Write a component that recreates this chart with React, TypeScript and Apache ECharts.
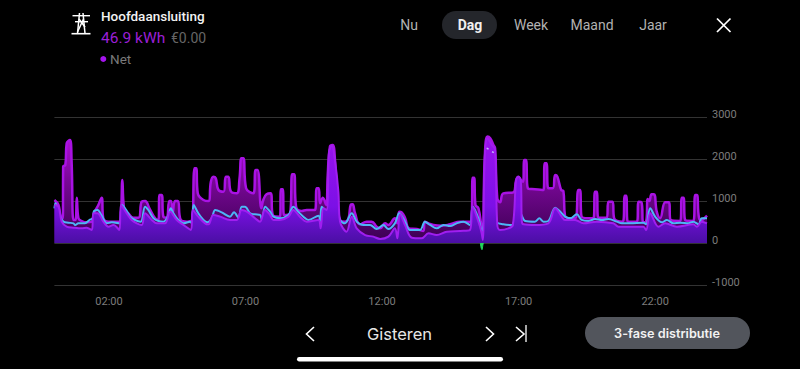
import React, { useEffect, useRef } from "react";
import * as echarts from "echarts";

const tickHours = [2, 7, 12, 17, 22];
const yMin = -1000;
const yMax = 3000;

const topLine: number[][] = [
[0,1025],[.15,905],[.23,627],[.31,590],[.32,1818],[.40,1858],[.45,2374],[.57,2453],[.63,1937],[.70,548],[.77,548],[.82,1080],[.88,590],[1.0,524],[1.18,492],[1.37,508],[1.47,730],[1.61,905],[1.73,1080],[1.79,590],[1.98,508],[2.38,508],[2.43,548],[2.49,1500],[2.55,826],[2.71,707],[2.89,603],[3.08,603],[3.2,985],[3.32,1000],[3.48,826],[3.69,588],[3.81,548],[3.85,1143],[3.93,1143],[3.99,627],[4.11,603],[4.21,1000],[4.27,1000],[4.33,707],[4.42,1000],[4.52,1000],[4.63,548],[4.85,508],[5.0,524],[5.05,508],[5.13,1779],[5.19,1779],[5.25,1183],[5.46,1024],[5.64,1000],[5.73,1461],[5.82,1580],[5.91,1540],[6.01,1262],[6.19,1222],[6.28,1580],[6.37,1580],[6.47,1222],[6.68,1183],[6.78,1540],[6.85,2017],[6.92,2017],[7.02,1302],[7.29,1183],[7.37,1739],[7.44,1739],[7.58,826],[7.65,1024],[7.77,1159],[7.92,1183],[8.0,667],[8.26,627],[8.3,1278],[8.36,1278],[8.41,667],[8.63,707],[8.71,1636],[8.78,1636],[8.85,865],[9.06,762],[9.24,786],[9.54,786],[9.61,1302],[9.68,1302],[9.73,945],[9.83,1080],[9.95,905],[10.01,1620],[10.09,2295],[10.19,2334],[10.28,1937],[10.36,1064],[10.46,548],[10.64,508],[10.77,588],[10.85,905],[10.92,920],[11.01,707],[11.19,445],[11.44,508],[11.62,508],[11.8,389],[11.93,349],[12.11,468],[12.23,429],[12.47,588],[12.56,468],[12.63,746],[12.72,730],[12.84,603],[12.99,349],[13.27,333],[13.51,286],[13.57,508],[13.7,468],[13.88,429],[14.18,413],[14.49,445],[14.86,508],[15.22,508],[15.28,548],[15.32,1556],[15.37,1556],[15.42,905],[15.53,826],[15.65,349],[15.69,270],[15.76,2017],[15.86,2533],[15.96,2493],[16.08,2334],[16.14,2255],[16.22,1064],[16.32,969],[16.44,1183],[16.81,1207],[16.91,1500],[16.99,1580],[17.08,1500],[17.16,1460],[17.21,1977],[17.27,1977],[17.34,1302],[17.6,1280],[17.91,1262],[17.96,1898],[18.02,1898],[18.09,1302],[18.25,1302],[18.34,1620],[18.42,1580],[18.56,1262],[18.64,1240],[18.7,651],[18.89,588],[19.07,588],[19.19,1262],[19.25,1262],[19.31,627],[19.74,588],[19.8,1222],[19.86,1222],[19.92,603],[20.23,603],[20.29,985],[20.44,985],[20.5,588],[20.82,508],[20.89,1127],[20.94,1127],[21,508],[21.33,508],[21.4,985],[21.5,970],[21.57,492],[21.67,508],[21.73,1048],[21.79,1000],[21.87,1159],[21.96,1159],[22.06,746],[22.18,588],[22.37,969],[22.5,969],[22.57,548],[22.92,524],[22.98,1080],[23.04,1080],[23.1,548],[23.4,524],[23.47,1143],[23.53,1143],[23.61,588],[23.71,548],[23.8,588],[23.9,651]
];

const cyanLine: number[][] = [
[0,826],[.04,945],[.11,826],[.21,627],[.33,508],[.51,484],[.7,468],[.76,429],[.88,468],[1.12,468],[1.28,548],[1.4,588],[1.45,762],[1.58,786],[1.73,651],[1.92,468],[2.1,492],[2.38,468],[2.47,905],[2.63,786],[2.77,627],[2.95,548],[3.16,508],[3.32,865],[3.44,786],[3.63,588],[3.81,524],[3.99,508],[4.18,667],[4.26,826],[4.36,707],[4.54,548],[4.73,468],[4.97,508],[5.03,468],[5.1,905],[5.27,707],[5.46,548],[5.6,492],[5.76,588],[5.89,786],[6.13,730],[6.43,627],[6.58,730],[6.74,603],[6.86,865],[6.98,865],[7.17,707],[7.35,683],[7.53,667],[7.6,548],[7.72,865],[7.9,746],[8.02,627],[8.26,588],[8.57,667],[8.75,865],[8.93,746],[9.12,627],[9.3,548],[9.67,651],[9.73,468],[9.79,865],[9.97,746],[10.1,1500],[10.2,1500],[10.38,800],[10.46,548],[10.64,468],[10.89,707],[11.07,508],[11.32,429],[11.56,429],[11.8,333],[12.05,429],[12.23,333],[12.47,468],[12.63,707],[12.84,508],[13.02,310],[13.39,310],[13.57,508],[13.76,429],[14.0,349],[14.25,429],[14.49,405],[14.73,468],[14.98,508],[15.22,429],[15.32,865],[15.53,588],[15.65,286],[15.72,429],[15.86,1500],[16.1,1500],[16.2,508],[16.44,445],[16.75,429],[16.87,588],[16.96,786],[17.08,700],[17.24,524],[17.6,508],[17.76,588],[17.91,508],[18.09,524],[18.34,842],[18.5,762],[18.7,627],[18.89,588],[19.13,683],[19.31,548],[19.56,524],[19.8,572],[20.05,548],[20.29,572],[20.6,508],[20.78,468],[21.09,468],[21.57,484],[21.67,445],[21.82,826],[22,627],[22.25,492],[22.43,548],[22.67,468],[22.92,484],[23.22,468],[23.4,508],[23.59,445],[23.71,588],[23.9,588]
];

const crestMarks: (number | null)[][] = [[15.83,2255],[15.9,2240],[null,null],[16.03,2176],[16.09,2150]];

const lowerLine: number[][] = [
[0,905],[.15,865],[.27,508],[.45,389],[.7,365],[1.0,349],[1.18,365],[1.37,310],[1.43,707],[1.58,707],[1.79,508],[1.98,389],[2.16,429],[2.38,310],[2.44,905],[2.65,707],[2.83,548],[3.02,468],[3.2,429],[3.32,707],[3.57,548],[3.75,468],[4.05,468],[4.24,746],[4.48,548],[4.73,429],[5.0,310],[5.07,786],[5.27,627],[5.52,468],[5.64,445],[5.82,667],[6.07,627],[6.43,548],[6.68,548],[6.86,786],[7.05,746],[7.35,588],[7.53,508],[7.71,786],[7.9,667],[8.02,548],[8.26,548],[8.57,627],[8.75,786],[8.99,627],[9.24,508],[9.67,548],[9.75,349],[9.85,826],[9.97,786],[10.06,2176],[10.16,2318],[10.28,1937],[10.4,1222],[10.46,508],[10.7,270],[10.89,627],[11.07,349],[11.38,190],[11.68,151],[11.93,95],[12.23,151],[12.47,349],[12.56,111],[12.66,683],[12.84,429],[13.09,127],[13.45,111],[13.7,230],[14,190],[14.37,270],[14.86,286],[15.22,310],[15.31,865],[15.53,508],[15.64,254],[15.69,71],[15.76,2017],[15.86,2493],[16.02,2334],[16.14,2215],[16.22,429],[16.32,310],[16.63,349],[16.79,429],[16.91,1500],[16.99,1580],[17.08,1500],[17.12,508],[17.18,445],[17.6,429],[18.09,468],[18.34,826],[18.58,627],[18.7,548],[19.07,548],[19.38,468],[19.86,508],[20.47,468],[20.66,389],[21.57,389],[21.67,310],[21.82,707],[22.12,389],[22.37,468],[22.8,389],[23.4,445],[23.53,389],[23.71,508],[23.9,468]
];

const greenDip: number[][] = [[15.6,0],[15.63,-120],[15.66,-160],[15.69,-60],[15.71,0]];

const periodTabs = [
  { label: "Nu", x: 409 },
  { label: "Week", x: 531 },
  { label: "Maand", x: 592 },
  { label: "Jaar", x: 653 },
];

const line = (x1: number, y1: number, x2: number, y2: number, stroke = "#fff", w = 1.5) => ({
  type: "line",
  silent: true,
  shape: { x1, y1, x2, y2 },
  style: { stroke, lineWidth: w },
});
const poly = (points: number[][], stroke = "#fff", w = 1.6) => ({
  type: "polyline",
  silent: true,
  shape: { points },
  style: { stroke, lineWidth: w, fill: "none" },
});
const text = (x: number, y: number, t: string, fill: string, fontSize: number, extra: any = {}) => ({
  type: "text",
  silent: true,
  x,
  y,
  style: {
    text: t,
    fill,
    fontSize,
    fontFamily: "Roboto",
    textAlign: "left",
    textVerticalAlign: "middle",
    ...extra,
  },
});

export default function App() {
  const ref = useRef<HTMLDivElement>(null);
  useEffect(() => {
    const chart = echarts.init(ref.current!, undefined, { renderer: "svg" });
    const axisText = { color: "#7c7c7c", fontSize: 11, fontFamily: "Roboto" };
    chart.setOption({
      animation: false,
      backgroundColor: "#000",
      grid: { left: 54.4, right: 93, top: 117, bottom: 84 },
      xAxis: {
        type: "value",
        min: 0,
        max: 23.9,
        axisLine: { show: false },
        axisTick: { show: false },
        splitLine: { show: false },
        axisLabel: {
          ...axisText,
          margin: 11,
          customValues: tickHours,
          formatter: (v: number) => `${String(v).padStart(2, "0")}:00`,
        },
      },
      yAxis: {
        type: "value",
        position: "right",
        min: yMin,
        max: yMax,
        interval: 1000,
        axisLine: { show: false },
        axisTick: { show: false },
        axisLabel: { ...axisText, margin: 5, verticalAlign: "bottom", lineHeight: 6, formatter: (v: number) => String(v) },
        splitLine: { show: true, lineStyle: { color: "#333", width: 1 } },
      },
      series: [
        {
          type: "line",
          z: 2,
          data: topLine,
          showSymbol: false,
          smooth: 0.45,
          lineStyle: { color: "#a912e4", width: 2.5 },
          areaStyle: {
            opacity: 1,
            color: {
              type: "linear", x: 0, y: 0, x2: 0, y2: 1,
              colorStops: [
                { offset: 0, color: "#b010d8" },
                { offset: 0.4, color: "#7a0898" },
                { offset: 1, color: "#3a0050" },
              ],
            },
          },
        },
        {
          type: "line",
          z: 3,
          data: cyanLine,
          showSymbol: false,
          smooth: 0.35,
          lineStyle: { color: "#4db6f6", width: 2 },
        },
        {
          type: "line",
          z: 4,
          data: lowerLine,
          showSymbol: false,
          smooth: 0.35,
          lineStyle: { color: "#a01ef0", width: 2 },
          areaStyle: {
            opacity: 1,
            color: {
              type: "linear", x: 0, y: 0, x2: 0, y2: 1,
              colorStops: [
                { offset: 0, color: "#9a12ee" },
                { offset: 0.65, color: "#7c10e6" },
                { offset: 1, color: "#4a0fa4" },
              ],
            },
          },
        },
        {
          type: "line",
          z: 5,
          data: crestMarks,
          connectNulls: false,
          showSymbol: false,
          lineStyle: { color: "#c9b8ff", width: 1.5 },
        },
        {
          type: "line",
          z: 5,
          data: greenDip,
          showSymbol: false,
          smooth: 0.3,
          lineStyle: { color: "#22d65a", width: 1 },
          areaStyle: { color: "#22d65a", opacity: 1 },
        },
      ],
      graphic: [
        // pylon icon
        line(71.5, 33.7, 90.5, 33.7, "#fff", 1.6),
        line(72.5, 15.7, 90, 15.7, "#fff", 1.4),
        line(75, 21.7, 88, 21.7, "#fff", 1.4),
        line(79.5, 13, 77.5, 33.5),
        line(83, 13, 85, 33.5),
        line(79, 19, 85, 27),
        line(83.5, 19, 77.5, 32),
        text(101, 16, "Hoofdaansluiting", "#f2f2f2", 13.5, { fontWeight: 500 }),
        text(101, 38, "46.9 kWh", "#9b1fd6", 15.5),
        text(171, 38, "€0.00", "#666", 14),
        { type: "circle", silent: true, shape: { cx: 103.3, cy: 59, r: 3 }, style: { fill: "#a514ee" } },
        text(110, 59, "Net", "#7a7a7a", 13.5),
        { type: "rect", silent: true, shape: { x: 442, y: 11, width: 55, height: 28, r: 14 }, style: { fill: "#24262b" } },
        text(470, 25, "Dag", "#f0f0f0", 14, { fontWeight: 700, textAlign: "center" }),
        ...periodTabs.map((t) => text(t.x, 25, t.label, "#b2b2b2", 14, { textAlign: "center" })),
        line(717, 18.5, 730.5, 32, "#fff", 1.7),
        line(730.5, 18.5, 717, 32, "#fff", 1.7),
        poly([[314, 327], [306.5, 334], [314, 341]]),
        poly([[486, 327], [493.5, 334], [486, 341]]),
        poly([[516, 327], [524, 334], [516, 341]]),
        line(526, 325, 526, 342, "#fff", 1.3),
        text(399.5, 333.5, "Gisteren", "#e6e6e6", 16.5, { fontFamily: "Inter", textAlign: "center" }),
        { type: "rect", silent: true, shape: { x: 585, y: 317, width: 165, height: 32, r: 16 }, style: { fill: "#52555c" } },
        text(667, 333, "3-fase distributie", "#f2f2f2", 12.7, { fontFamily: "Inter", fontWeight: 600, textAlign: "center" }),
        { type: "rect", silent: true, shape: { x: 297, y: 357, width: 206, height: 4.5, r: 2.2 }, style: { fill: "#fff" } },
      ],
    });
    return () => chart.dispose();
  }, []);
  return (
    <div
      ref={ref}
      style={{ position: "fixed", left: 0, top: 0, width: 800, height: 369, background: "#000" }}
    />
  );
}
